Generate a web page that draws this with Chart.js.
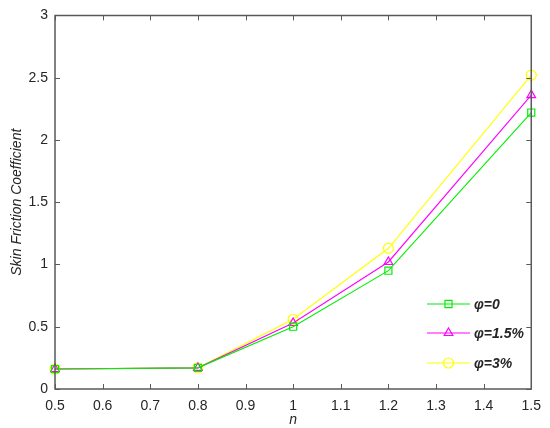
<!DOCTYPE html>
<html>
<head>
<meta charset="utf-8">
<script src="https://cdn.jsdelivr.net/npm/chart.js@4/dist/chart.umd.min.js"></script>
<style>
  html, body { margin: 0; padding: 0; background: #fff; }
  canvas { display: block; }
</style>
</head>
<body>
<canvas id="chart" width="550" height="428"></canvas>
<script>
// Skin friction coefficient vs n for three nanoparticle fractions
const nValues = [0.5, 0.8, 1.0, 1.2, 1.5];
const phi0 = [0.16, 0.17, 0.50, 0.95, 2.22];
const phi15 = [0.16, 0.17, 0.53, 1.02, 2.36];
const phi3 = [0.16, 0.17, 0.56, 1.13, 2.52];
const seriesLabels = ['\u03c6=0', '\u03c6=1.5%', '\u03c6=3%'];
const xTicks = [0.5, 0.6, 0.7, 0.8, 0.9, 1.0, 1.1, 1.2, 1.3, 1.4, 1.5];
const yTicks = [0, 0.5, 1, 1.5, 2, 2.5, 3];

const FONT = '"Liberation Sans", Arial, sans-serif';
const AXIS_COLOR = '#5a5a5a';
const TEXT_COLOR = '#262626';

function toPoints(ys) {
    return nValues.map((x, i) => ({ x: x, y: ys[i] }));
}

function makeSet(label, ys, color, style) {
    return {
        label: label,
        data: toPoints(ys),
        showLine: true,
        borderColor: color,
        backgroundColor: 'rgba(0,0,0,0)',
        borderWidth: 1.1,
        pointStyle: style,
        pointRadius: 5,
        pointBorderWidth: 1.2,
        pointBorderColor: color,
        pointBackgroundColor: 'rgba(0,0,0,0)',
        tension: 0,
        clip: false
    };
}

// MATLAB-like box with inward ticks on all four sides
const boxTicks = {
    id: 'boxTicks',
    afterDatasetsDraw(chart) {
        const ctx = chart.ctx;
        const a = chart.chartArea;
        const xs = chart.scales.x;
        const ys = chart.scales.y;
        const len = 5;
        ctx.save();
        ctx.strokeStyle = AXIS_COLOR;
        ctx.lineWidth = 1;
        ctx.beginPath();
        xTicks.forEach(v => {
            const px = Math.round(xs.getPixelForValue(v)) + 0.5;
            ctx.moveTo(px, a.bottom);
            ctx.lineTo(px, a.bottom - len);
            ctx.moveTo(px, a.top);
            ctx.lineTo(px, a.top + len);
        });
        yTicks.forEach(v => {
            const py = Math.round(ys.getPixelForValue(v)) + 0.5;
            ctx.moveTo(a.left, py);
            ctx.lineTo(a.left + len, py);
            ctx.moveTo(a.right, py);
            ctx.lineTo(a.right - len, py);
        });
        ctx.stroke();
        ctx.lineWidth = 1.5;
        ctx.beginPath();
        ctx.rect(a.left, a.top, a.right - a.left, a.bottom - a.top);
        ctx.stroke();
        ctx.restore();
    }
};

// legend drawn inside the lower right corner, no frame
const insideLegend = {
    id: 'insideLegend',
    afterDraw(chart) {
        const ctx = chart.ctx;
        const x0 = 427, x1 = 470, rows = [304, 333, 363];
        ctx.save();
        chart.data.datasets.forEach((ds, i) => {
            const y = rows[i];
            ctx.strokeStyle = ds.borderColor;
            ctx.fillStyle = 'rgba(0,0,0,0)';
            ctx.lineWidth = 1.1;
            ctx.beginPath();
            ctx.moveTo(x0, y);
            ctx.lineTo(x1, y);
            ctx.stroke();
            ctx.lineWidth = 1.2;
            Chart.helpers.drawPoint(ctx, {
                pointStyle: ds.pointStyle,
                radius: 5,
                borderWidth: 1.2
            }, (x0 + x1) / 2, y);
            ctx.fillStyle = TEXT_COLOR;
            ctx.font = 'italic bold 14px ' + FONT;
            ctx.textAlign = 'left';
            ctx.textBaseline = 'middle';
            ctx.fillText(ds.label, 474, y + 1);
        });
        ctx.restore();
    }
};

const fmt = v => String(+Number(v).toFixed(2));

new Chart(document.getElementById('chart'), {
    type: 'scatter',
    data: {
        datasets: [
            makeSet(seriesLabels[0], phi0, '#00f000', 'rect'),
            makeSet(seriesLabels[1], phi15, '#ff00ff', 'triangle'),
            makeSet(seriesLabels[2], phi3, '#ffff00', 'circle')
        ]
    },
    options: {
        responsive: false,
        animation: false,
        layout: { padding: { top: 12, right: 18, left: 0, bottom: 0 } },
        plugins: {
            legend: { display: false },
            tooltip: { enabled: false }
        },
        scales: {
            x: {
                type: 'linear',
                min: 0.5,
                max: 1.5,
                ticks: {
                    stepSize: 0.1,
                    callback: fmt,
                    color: TEXT_COLOR,
                    font: { family: FONT, size: 14 },
                    padding: 9,
                    maxRotation: 0
                },
                grid: { display: false, drawTicks: false },
                border: { display: false },
                title: {
                    display: true,
                    text: 'n',
                    color: TEXT_COLOR,
                    font: { family: FONT, size: 14, style: 'italic' },
                    padding: { top: 0, bottom: -1 }
                },
                afterFit(scale) { scale.height = 39; }
            },
            y: {
                min: 0,
                max: 3,
                ticks: {
                    stepSize: 0.5,
                    callback: fmt,
                    color: TEXT_COLOR,
                    font: { family: FONT, size: 14 },
                    padding: 7
                },
                grid: { display: false, drawTicks: false },
                border: { display: false },
                title: {
                    display: true,
                    text: 'Skin Friction Coefficient',
                    color: TEXT_COLOR,
                    font: { family: FONT, size: 14, style: 'italic' },
                    padding: { top: 9, bottom: 0 }
                },
                afterFit(scale) { scale.width = 55; }
            }
        }
    },
    plugins: [boxTicks, insideLegend]
});
</script>
</body>
</html>
